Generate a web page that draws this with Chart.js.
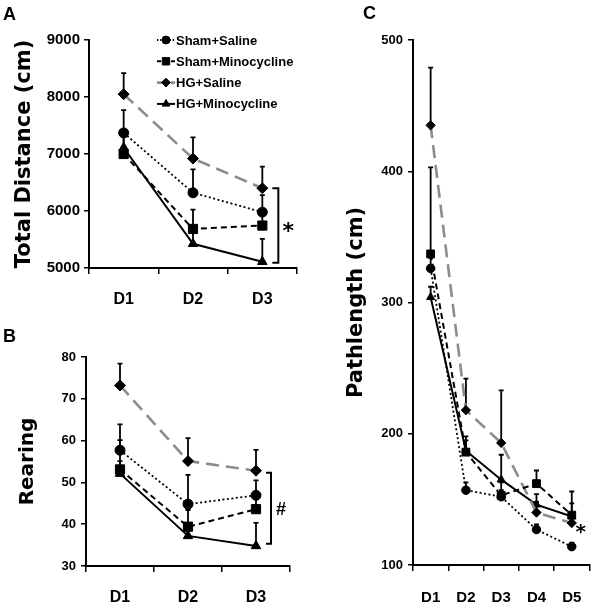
<!DOCTYPE html>
<html><head><meta charset="utf-8">
<script src="https://cdn.jsdelivr.net/npm/chart.js@4.4.1/dist/chart.umd.min.js"></script>
<style>
body{margin:0;background:#fff;width:600px;height:610px;position:relative;overflow:hidden}
canvas{position:absolute}
.lbl{position:absolute;font:bold 18px 'Liberation Sans',Arial,sans-serif;line-height:18px;color:#000}
</style></head><body>
<canvas id="cA" width="310" height="310" style="left:0;top:0"></canvas>
<canvas id="cB" width="310" height="300" style="left:0;top:310px"></canvas>
<canvas id="cC" width="290" height="610" style="left:310px;top:0"></canvas>
<div class="lbl" style="left:3px;top:5px">A</div>
<div class="lbl" style="left:3px;top:327px">B</div>
<div class="lbl" style="left:363px;top:4px">C</div>
<script>
// ---------- data ----------
const days3 = ['D1', 'D2', 'D3'];
const days5 = ['D1', 'D2', 'D3', 'D4', 'D5'];
const seriesNames = ['Sham+Saline', 'Sham+Minocycline', 'HG+Saline', 'HG+Minocycline'];

// Panel A: Total Distance (cm)
const shamSalineA = [7370, 6320, 5980];
const shamSalineAErr = [400, 410, 300];
const shamMinoA = [7000, 5685, 5745];
const shamMinoAErr = [300, 340, 250];
const hgSalineA = [8050, 6920, 6400];
const hgSalineAErr = [370, 370, 380];
const hgMinoA = [7110, 5425, 5110];
const hgMinoAErr = [280, 250, 400];
const ticksA = [5000, 9000, 1000];

// Panel B: Rearing
const shamSalineB = [57.7, 44.8, 46.9];
const shamSalineBErr = [6.2, 7.0, 3.6];
const shamMinoB = [53.1, 39.4, 43.6];
const shamMinoBErr = [7.0, 4.0, 4.0];
const hgSalineB = [73.2, 55.1, 52.8];
const hgSalineBErr = [5.2, 5.5, 5.0];
const hgMinoB = [52.1, 37.2, 34.8];
const hgMinoBErr = [3.0, 3.0, 5.5];
const ticksB = [30, 80, 10];

// Panel C: Pathlength (cm)
const shamSalineC = [326, 157, 152, 127, 114];
const shamSalineCErr = [8, 6, 5, 4, 3];
const shamMinoC = [337, 186, 153, 162, 138];
const shamMinoCErr = [66, 12, 10, 10, 18];
const hgSalineC = [435, 218, 193, 140, 132];
const hgSalineCErr = [44, 24, 40, 8, 6];
const hgMinoC = [304, 187, 165, 146, 137];
const hgMinoCErr = [8, 8, 19, 8, 10];
const ticksC = [100, 500, 100];

// ---------- styles ----------
const styles = [
  {color: '#000', width: 1.8, dash: [2, 2.5], point: 'circle', r: 5},
  {color: '#000', width: 2, dash: [6, 4], point: 'rect', r: 6.5},
  {color: '#8c8c8c', width: 2.6, dash: [13, 7], point: 'rectRot', r: 5.5},
  {color: '#000', width: 2, dash: [], point: 'triangle', r: 5.5}
];

function datasets(vals, errs, scale) {
  return vals.map((v, i) => ({
    label: seriesNames[i],
    data: v,
    errors: errs[i],
    borderColor: styles[i].color,
    borderWidth: styles[i].width,
    borderDash: styles[i].dash,
    pointStyle: styles[i].point,
    pointRadius: styles[i].r * scale,
    pointBackgroundColor: '#000',
    pointBorderColor: '#000',
    pointBorderWidth: 1,
    tension: 0,
    fill: false
  }));
}

const errorBars = {
  id: 'errorBars',
  beforeDatasetsDraw(chart) {
    const ctx = chart.ctx, ys = chart.scales.y;
    chart.data.datasets.forEach((ds, i) => {
      const meta = chart.getDatasetMeta(i);
      ctx.save();
      ctx.strokeStyle = '#000'; ctx.lineWidth = 1.8; ctx.setLineDash([]);
      meta.data.forEach((pt, j) => {
        const e = ds.errors[j];
        const y0 = ys.getPixelForValue(ds.data[j]);
        const y1 = ys.getPixelForValue(ds.data[j] + e);
        ctx.beginPath();
        ctx.moveTo(pt.x, y0); ctx.lineTo(pt.x, y1);
        ctx.moveTo(pt.x - 2.5, y1); ctx.lineTo(pt.x + 2.5, y1);
        ctx.stroke();
      });
      ctx.restore();
    });
  }
};

const bracket = {
  id: 'bracket',
  afterDatasetsDraw(chart, args, o) {
    if (!o || o.top == null) return;
    const ctx = chart.ctx, xs = chart.scales.x, ys = chart.scales.y;
    const bx = xs.getPixelForValue(o.at) + o.dx;
    ctx.save();
    ctx.strokeStyle = '#000'; ctx.fillStyle = '#000'; ctx.lineWidth = 2; ctx.setLineDash([]);
    ctx.font = o.font; ctx.textAlign = 'center'; ctx.textBaseline = 'alphabetic';
    if (o.bottom != null) {
      const yt = ys.getPixelForValue(o.top), yb = ys.getPixelForValue(o.bottom);
      ctx.beginPath();
      ctx.moveTo(bx - o.arm, yt); ctx.lineTo(bx, yt); ctx.lineTo(bx, yb); ctx.lineTo(bx - o.arm, yb);
      ctx.stroke();
      ctx.fillText(o.sym, bx + o.symDx, (yt + yb) / 2 + o.symDy);
    } else {
      ctx.fillText(o.sym, bx, ys.getPixelForValue(o.top) + o.symDy);
    }
    ctx.restore();
  }
};

const legendBox = {
  id: 'legendBox',
  afterDraw(chart, args, o) {
    if (!o || !o.show) return;
    const ctx = chart.ctx;
    ctx.save();
    chart.data.datasets.forEach((ds, i) => {
      const y = o.y + i * o.gap;
      ctx.strokeStyle = ds.borderColor; ctx.lineWidth = ds.borderWidth;
      ctx.setLineDash(ds.borderDash.length ? ds.borderDash.map(d => d * 0.7) : []);
      ctx.beginPath(); ctx.moveTo(o.x, y); ctx.lineTo(o.x + 18, y); ctx.stroke();
      ctx.setLineDash([]);
      ctx.fillStyle = '#000'; ctx.strokeStyle = '#000'; ctx.lineWidth = 1;
      Chart.helpers.drawPoint(ctx, {pointStyle: ds.pointStyle, radius: ds.pointRadius * 0.8, borderWidth: 1}, o.x + 9, y);
      ctx.font = o.font; ctx.textAlign = 'left'; ctx.textBaseline = 'middle';
      ctx.fillText(ds.label, o.x + 19, y + 1);
    });
    ctx.restore();
  }
};

function makeChart(id, labels, vals, errs, tk, cfg) {
  return new Chart(document.getElementById(id), {
    type: 'line',
    data: {labels: labels, datasets: datasets(vals, errs, cfg.pscale)},
    options: {
      responsive: false, animation: false, devicePixelRatio: 1,
      layout: {padding: {left: 0, top: cfg.top, right: cfg.right, bottom: 0}},
      plugins: {
        legend: {display: false}, tooltip: {enabled: false},
        bracket: cfg.bracket, legendBox: cfg.legend || {show: false}
      },
      scales: {
        x: {
          offset: true,
          grid: {offset: true, drawOnChartArea: false, tickLength: 6, color: '#000', lineWidth: 1.5},
          border: {color: '#000', width: 2},
          ticks: {color: '#000', padding: cfg.xpad, font: {family: "'Liberation Sans', Arial, sans-serif", weight: 'bold', size: cfg.xfont}},
          afterFit(s) { s.height = cfg.xh; }
        },
        y: {
          min: tk[0], max: tk[1],
          grid: {drawOnChartArea: false, tickLength: 5, color: '#000', lineWidth: 1.5},
          border: {color: '#000', width: 2},
          ticks: {stepSize: tk[2], color: '#000', padding: cfg.ypad, callback: v => String(v),
                  font: {family: "'Liberation Sans', Arial, sans-serif", weight: 'bold', size: cfg.yfont}},
          title: {display: true, text: cfg.title, color: '#000', padding: {top: cfg.tpad, bottom: 0},
                  font: {family: "'DejaVu Sans', Verdana, sans-serif", weight: 'bold', size: cfg.tfont}},
          afterFit(s) { s.width = cfg.yw; }
        }
      }
    },
    plugins: [errorBars, bracket, legendBox]
  });
}

makeChart('cA', days3,
  [shamSalineA, shamMinoA, hgSalineA, hgMinoA],
  [shamSalineAErr, shamMinoAErr, hgSalineAErr, hgMinoAErr], ticksA,
  {top: 40, right: 13, xh: 42, yw: 89, xpad: 16, ypad: 4, xfont: 16, yfont: 15, tfont: 21, tpad: 12,
   title: 'Total Distance (cm)', pscale: 1,
   bracket: {top: 6400, bottom: 5090, at: 2, dx: 16, arm: 6, sym: '*', symDx: 10, symDy: 12, font: "bold 22px 'DejaVu Sans', sans-serif"},
   legend: {show: true, x: 157, y: 40, gap: 21.3, font: "bold 13px 'Liberation Sans', Arial, sans-serif"}});

makeChart('cB', days3,
  [shamSalineB, shamMinoB, hgSalineB, hgMinoB],
  [shamSalineBErr, shamMinoBErr, hgSalineBErr, hgMinoBErr], ticksB,
  {top: 47, right: 20, xh: 44, yw: 86, xpad: 16, ypad: 5, xfont: 16, yfont: 13, tfont: 20, tpad: 16,
   title: 'Rearing', pscale: 1,
   bracket: {top: 52.3, bottom: 35.3, at: 2, dx: 15, arm: 5, sym: '#', symDx: 10, symDy: 7, font: "bold 18px 'Liberation Sans', Arial, sans-serif"}});

makeChart('cC', days5,
  [shamSalineC, shamMinoC, hgSalineC, hgMinoC],
  [shamSalineCErr, shamMinoCErr, hgSalineCErr, hgMinoCErr], ticksC,
  {top: 40, right: 5, xh: 45, yw: 103, xpad: 18, ypad: 5, xfont: 15, yfont: 13, tfont: 21, tpad: 34,
   title: 'Pathlength (cm)', pscale: 0.85,
   bracket: {top: 129, at: 4, dx: 9, sym: '*', symDy: 11, font: "bold 20px 'DejaVu Sans', sans-serif"}});
</script>
</body></html>
